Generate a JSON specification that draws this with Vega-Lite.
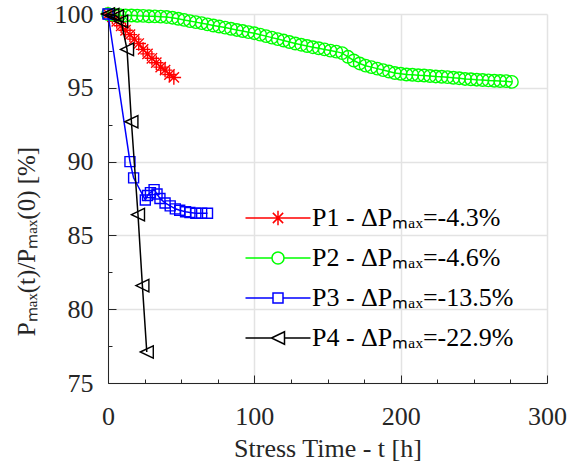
{
  "$schema": "https://vega.github.io/schema/vega-lite/v6.json",
  "width": 439,
  "height": 369,
  "autosize": "none",
  "padding": {"left": 108, "top": 14, "right": 22, "bottom": 79},
  "background": "white",
  "config": {
    "view": {"stroke": null},
    "font": "Liberation Serif",
    "axis": {
      "domainColor": "#262626",
      "domainWidth": 1,
      "tickColor": "#262626",
      "tickWidth": 1,
      "labelFont": "Liberation Serif",
      "labelFontSize": 26,
      "labelColor": "#262626",
      "titleFont": "Liberation Serif",
      "titleFontSize": 26,
      "titleFontWeight": "normal",
      "titleColor": "#262626",
      "gridColor": "#e3e3e3",
      "gridWidth": 1.5
    }
  },
  "datasets": {
    "pmax": [
      {"probe": "P1", "time": 0, "pmax": 100.0},
      {"probe": "P1", "time": 3, "pmax": 99.8},
      {"probe": "P1", "time": 6, "pmax": 99.5},
      {"probe": "P1", "time": 9, "pmax": 99.2},
      {"probe": "P1", "time": 12, "pmax": 98.9},
      {"probe": "P1", "time": 15, "pmax": 98.6},
      {"probe": "P1", "time": 18, "pmax": 98.3},
      {"probe": "P1", "time": 21, "pmax": 98.0},
      {"probe": "P1", "time": 24, "pmax": 97.6},
      {"probe": "P1", "time": 27, "pmax": 97.3},
      {"probe": "P1", "time": 30, "pmax": 97.0},
      {"probe": "P1", "time": 33, "pmax": 96.7},
      {"probe": "P1", "time": 36, "pmax": 96.4},
      {"probe": "P1", "time": 39, "pmax": 96.2},
      {"probe": "P1", "time": 42, "pmax": 95.9},
      {"probe": "P1", "time": 45, "pmax": 95.7},

      {"probe": "P2", "time": 0, "pmax": 100.0},
      {"probe": "P2", "time": 4, "pmax": 99.95},
      {"probe": "P2", "time": 8, "pmax": 99.92},
      {"probe": "P2", "time": 12, "pmax": 99.9},
      {"probe": "P2", "time": 16, "pmax": 99.9},
      {"probe": "P2", "time": 20, "pmax": 99.88},
      {"probe": "P2", "time": 24, "pmax": 99.87},
      {"probe": "P2", "time": 28, "pmax": 99.85},
      {"probe": "P2", "time": 32, "pmax": 99.84},
      {"probe": "P2", "time": 36, "pmax": 99.82},
      {"probe": "P2", "time": 40, "pmax": 99.8},
      {"probe": "P2", "time": 44, "pmax": 99.75},
      {"probe": "P2", "time": 48, "pmax": 99.68},
      {"probe": "P2", "time": 52, "pmax": 99.6},
      {"probe": "P2", "time": 56, "pmax": 99.52},
      {"probe": "P2", "time": 60, "pmax": 99.45},
      {"probe": "P2", "time": 64, "pmax": 99.38},
      {"probe": "P2", "time": 68, "pmax": 99.3},
      {"probe": "P2", "time": 72, "pmax": 99.22},
      {"probe": "P2", "time": 76, "pmax": 99.15},
      {"probe": "P2", "time": 80, "pmax": 99.08},
      {"probe": "P2", "time": 84, "pmax": 99.0},
      {"probe": "P2", "time": 88, "pmax": 98.92},
      {"probe": "P2", "time": 92, "pmax": 98.85},
      {"probe": "P2", "time": 96, "pmax": 98.77},
      {"probe": "P2", "time": 100, "pmax": 98.7},
      {"probe": "P2", "time": 104, "pmax": 98.6},
      {"probe": "P2", "time": 108, "pmax": 98.5},
      {"probe": "P2", "time": 112, "pmax": 98.4},
      {"probe": "P2", "time": 116, "pmax": 98.3},
      {"probe": "P2", "time": 120, "pmax": 98.2},
      {"probe": "P2", "time": 124, "pmax": 98.1},
      {"probe": "P2", "time": 128, "pmax": 98.0},
      {"probe": "P2", "time": 132, "pmax": 97.92},
      {"probe": "P2", "time": 136, "pmax": 97.83},
      {"probe": "P2", "time": 140, "pmax": 97.75},
      {"probe": "P2", "time": 144, "pmax": 97.68},
      {"probe": "P2", "time": 148, "pmax": 97.6},
      {"probe": "P2", "time": 152, "pmax": 97.52},
      {"probe": "P2", "time": 156, "pmax": 97.45},
      {"probe": "P2", "time": 160, "pmax": 97.35},
      {"probe": "P2", "time": 164, "pmax": 97.1},
      {"probe": "P2", "time": 168, "pmax": 96.85},
      {"probe": "P2", "time": 172, "pmax": 96.65},
      {"probe": "P2", "time": 176, "pmax": 96.5},
      {"probe": "P2", "time": 180, "pmax": 96.4},
      {"probe": "P2", "time": 184, "pmax": 96.3},
      {"probe": "P2", "time": 188, "pmax": 96.2},
      {"probe": "P2", "time": 192, "pmax": 96.1},
      {"probe": "P2", "time": 196, "pmax": 96.0},
      {"probe": "P2", "time": 200, "pmax": 95.95},
      {"probe": "P2", "time": 204, "pmax": 95.9},
      {"probe": "P2", "time": 208, "pmax": 95.88},
      {"probe": "P2", "time": 212, "pmax": 95.85},
      {"probe": "P2", "time": 216, "pmax": 95.83},
      {"probe": "P2", "time": 220, "pmax": 95.8},
      {"probe": "P2", "time": 224, "pmax": 95.77},
      {"probe": "P2", "time": 228, "pmax": 95.75},
      {"probe": "P2", "time": 232, "pmax": 95.72},
      {"probe": "P2", "time": 236, "pmax": 95.68},
      {"probe": "P2", "time": 240, "pmax": 95.65},
      {"probe": "P2", "time": 244, "pmax": 95.6},
      {"probe": "P2", "time": 248, "pmax": 95.58},
      {"probe": "P2", "time": 252, "pmax": 95.55},
      {"probe": "P2", "time": 256, "pmax": 95.53},
      {"probe": "P2", "time": 260, "pmax": 95.5},
      {"probe": "P2", "time": 264, "pmax": 95.48},
      {"probe": "P2", "time": 268, "pmax": 95.46},
      {"probe": "P2", "time": 272, "pmax": 95.45},
      {"probe": "P2", "time": 276, "pmax": 95.4},

      {"probe": "P3", "time": 0, "pmax": 100.0},
      {"probe": "P3", "time": 15, "pmax": 90.0},
      {"probe": "P3", "time": 17.5, "pmax": 88.9},
      {"probe": "P3", "time": 25.5, "pmax": 87.4},
      {"probe": "P3", "time": 27, "pmax": 87.7},
      {"probe": "P3", "time": 29, "pmax": 87.9},
      {"probe": "P3", "time": 31.5, "pmax": 88.1},
      {"probe": "P3", "time": 33.5, "pmax": 87.8},
      {"probe": "P3", "time": 35.5, "pmax": 87.5},
      {"probe": "P3", "time": 39, "pmax": 87.2},
      {"probe": "P3", "time": 42.5, "pmax": 87.0},
      {"probe": "P3", "time": 46, "pmax": 86.8},
      {"probe": "P3", "time": 49, "pmax": 86.7},
      {"probe": "P3", "time": 53, "pmax": 86.6},
      {"probe": "P3", "time": 56, "pmax": 86.55},
      {"probe": "P3", "time": 60, "pmax": 86.5},
      {"probe": "P3", "time": 64, "pmax": 86.5},
      {"probe": "P3", "time": 68, "pmax": 86.5},

      {"probe": "P4", "time": 0, "pmax": 100.0},
      {"probe": "P4", "time": 3, "pmax": 99.95},
      {"probe": "P4", "time": 6, "pmax": 99.85},
      {"probe": "P4", "time": 9, "pmax": 99.5},
      {"probe": "P4", "time": 13, "pmax": 97.6},
      {"probe": "P4", "time": 16, "pmax": 92.7},
      {"probe": "P4", "time": 20.5, "pmax": 86.4},
      {"probe": "P4", "time": 23.5, "pmax": 81.6},
      {"probe": "P4", "time": 26.5, "pmax": 77.1}
    ]
  },
  "data": {"name": "pmax"},
  "encoding": {
    "x": {
      "field": "time",
      "type": "quantitative",
      "scale": {"domain": [0, 300], "nice": false},
      "axis": {
        "title": "Stress Time - t [h]",
        "values": [0, 25, 50, 75, 100, 125, 150, 175, 200, 225, 250, 275, 300],
        "labelExpr": "datum.value % 100 === 0 ? datum.label : ''",
        "labelPadding": 28,
        "labelFlush": false,
        "labelOverlap": false,
        "titlePadding": 2,
        "tickSize": {"condition": {"test": "datum.value % 100 === 0", "value": -8}, "value": -4},
        "gridOpacity": {"condition": {"test": "datum.value % 100 === 0", "value": 1}, "value": 0}
      }
    },
    "y": {
      "field": "pmax",
      "type": "quantitative",
      "scale": {"domain": [75, 100], "nice": false, "zero": false},
      "axis": {
        "title": "Pₘₐₓ(t)/Pₘₐₓ(0) [%]",
        "titleFontSize": 25,
        "titleX": -74,
        "titleY": 227,
        "titleAlign": "center",
        "titleBaseline": "alphabetic",
        "titleAngle": -90,
        "values": [75, 77.5, 80, 82.5, 85, 87.5, 90, 92.5, 95, 97.5, 100],
        "labelExpr": "datum.value % 5 === 0 ? datum.label : ''",
        "labelPadding": 23,
        "labelFlush": false,
        "labelOverlap": false,
        "tickSize": {"condition": {"test": "datum.value % 5 === 0", "value": -8}, "value": -4},
        "gridOpacity": {"condition": {"test": "datum.value % 5 === 0", "value": 1}, "value": 0}
      }
    },
    "color": {
      "field": "probe",
      "type": "nominal",
      "scale": {"domain": ["P1", "P2", "P3", "P4"], "range": ["#ff0000", "#00ff00", "#0000ff", "#000000"]},
      "legend": {
        "orient": "none",
        "legendX": 157,
        "legendY": 191,
        "title": null,
        "padding": 0,
        "rowPadding": 14,
        "symbolSize": 100,
        "symbolStrokeWidth": 1.5,
        "symbolOpacity": 1,
        "symbolFillColor": "transparent",
        "labelOffset": 21,
        "labelFont": "Liberation Serif",
        "labelFontSize": 26,
        "labelColor": "#000000",
        "labelLimit": 400,
        "labelExpr": "{'P1': 'P1 - ΔPₘₐₓ=-4.3%', 'P2': 'P2 - ΔPₘₐₓ=-4.6%', 'P3': 'P3 - ΔPₘₐₓ=-13.5%', 'P4': 'P4 - ΔPₘₐₓ=-22.9%'}[datum.label]"
      }
    }
  },
  "layer": [
    {
      "transform": [{"filter": "datum.probe === 'P1'"}],
      "mark": {
        "type": "line",
        "strokeWidth": 1.5,
        "point": {"filled": false, "size": 100, "strokeWidth": 1.4, "shape": "M-1.45,0L1.45,0M0,-1.45L0,1.45M-1.03,-1.03L1.03,1.03M-1.03,1.03L1.03,-1.03"}
      }
    },
    {
      "transform": [{"filter": "datum.probe === 'P2'"}],
      "mark": {
        "type": "line",
        "strokeWidth": 1.5,
        "point": {"filled": false, "size": 100, "strokeWidth": 1.4, "shape": "M-1.25,0A1.25,1.25,0,1,0,1.25,0A1.25,1.25,0,1,0,-1.25,0Z"}
      }
    },
    {
      "transform": [{"filter": "datum.probe === 'P3'"}],
      "mark": {
        "type": "line",
        "strokeWidth": 1.5,
        "point": {"filled": false, "size": 100, "strokeWidth": 1.4, "shape": "M-1,-1L1,-1L1,1L-1,1Z"}
      }
    },
    {
      "transform": [{"filter": "datum.probe === 'P4'"}],
      "mark": {
        "type": "line",
        "strokeWidth": 1.5,
        "point": {"filled": false, "size": 100, "strokeWidth": 1.4, "shape": "M-1.3,0L1.3,-1.25L1.3,1.25Z"}
      }
    },
    {
      "mark": {"type": "point", "filled": false, "opacity": 0},
      "encoding": {
        "shape": {
          "field": "probe",
          "type": "nominal",
          "scale": {
            "domain": ["P1", "P2", "P3", "P4"],
            "range": [
              "M-6.5,0L6.5,0M0,-1.45L0,1.45M-1.03,-1.03L1.03,1.03M-1.03,1.03L1.03,-1.03",
              "M-6.5,0L-1.2,0M1.2,0L6.5,0M-1.2,0A1.2,1.2,0,1,0,1.2,0A1.2,1.2,0,1,0,-1.2,0Z",
              "M-6.5,0L-1,0M1,0L6.5,0M-1,-1L1,-1L1,1L-1,1Z",
              "M-6.5,0L-1.3,0M1.3,0L6.5,0M-1.3,0L1.3,-1.25L1.3,1.25Z"
            ]
          }
        }
      }
    }
  ]
}
